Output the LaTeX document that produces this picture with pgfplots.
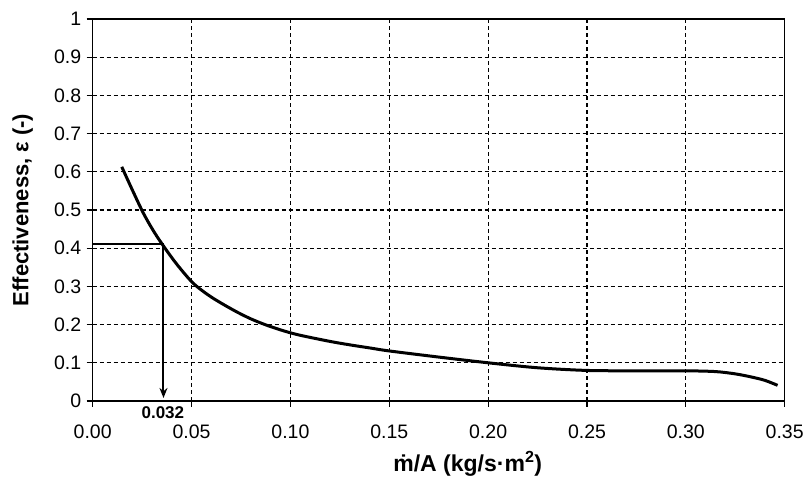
\documentclass[border=0pt]{standalone}
\usepackage{pgfplots}
\pgfplotsset{compat=1.18}
\usepackage{fontspec}
\setmainfont{Liberation Sans}
\usetikzlibrary{arrows.meta}

\begin{document}
\begin{tikzpicture}
\begin{axis}[
  at={(0pt,0pt)}, anchor=south west,
  scale only axis,
  width=692pt, height=382pt,
  xmin=0, xmax=0.35, ymin=0, ymax=1,
  xtick={0,0.05,...,0.351},
  ytick={0,0.1,...,1.01},
  tick pos=left,
  tick align=outside,
  major tick length=6pt,
  every tick/.style={black, line width=1.2pt},
  axis line style={line width=1.5pt},
  grid=major,
  major grid style={black, line width=1.1pt, dash pattern=on 4pt off 3pt},
  /pgf/number format/assume math mode=true,
  x tick label style={/pgf/number format/.cd, fixed, fixed zerofill, precision=2, /tikz/.cd, font=\fontsize{19.5}{22}\selectfont, yshift=-14pt},
  y tick label style={/pgf/number format/.cd, fixed, precision=1, /tikz/.cd, font=\fontsize{19.5}{22}\selectfont, xshift=-2pt},
  xlabel={\textbf{\.{m}/A (kg/s·m\textsuperscript{2})}},
  ylabel={\textbf{Effectiveness, ε (-)}},
  xlabel style={at={(axis description cs:0.542,-0.165)}, anchor=center, font=\fontsize{23}{26}\selectfont},
  ylabel style={at={(axis description cs:-0.101,0.5)}, anchor=center, font=\fontsize{22}{26}\selectfont},
  clip=false,
]
\addplot[black, line width=3pt, smooth] coordinates {
(0.0147,0.613) (0.020,0.553) (0.0257,0.491) (0.031,0.443) (0.0367,0.399)
(0.043,0.355) (0.051,0.3075) (0.060,0.272) (0.0713,0.2376) (0.080,0.215)
(0.0882,0.198) (0.097,0.183) (0.105,0.172) (0.120,0.156) (0.130,0.147)
(0.140,0.139) (0.150,0.131) (0.175,0.115) (0.200,0.100) (0.225,0.087)
(0.250,0.080) (0.275,0.079) (0.300,0.079) (0.315,0.077) (0.325,0.071)
(0.333,0.063) (0.340,0.054) (0.3464,0.041)
};
\addplot[black, line width=2pt, -{Stealth[length=10pt,width=8pt]}] coordinates {
(0,0.412) (0.0358,0.412) (0.0358,0.008)
};
\node[font=\fontsize{17}{20}\selectfont\bfseries] at (axis cs:0.0355,-0.031) {0.032};
\end{axis}
\pgfresetboundingbox
\path (-92.7pt,-80.3pt) rectangle (719.3pt,401pt);
\end{tikzpicture}
\end{document}
